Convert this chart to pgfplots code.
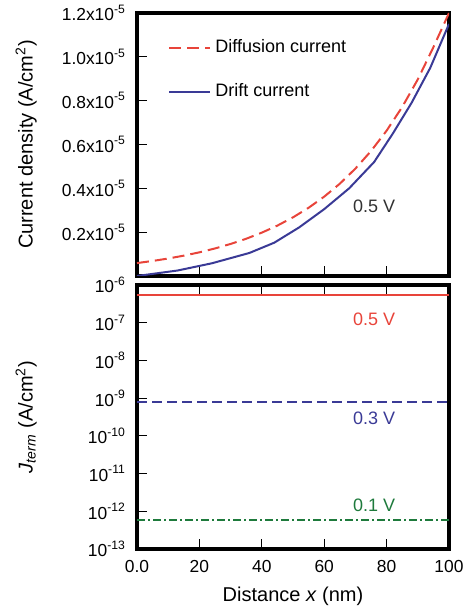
\documentclass[border=0pt]{standalone}
\usepackage{fontspec}
\setmainfont{Liberation Sans}
\usepackage{pgfplots}
\pgfplotsset{compat=1.18}

\definecolor{cred}{RGB}{232,68,58}
\definecolor{cblue}{RGB}{58,58,150}
\definecolor{cgreen}{RGB}{30,122,60}
\definecolor{ctext}{RGB}{50,50,50}

\pgfplotsset{
  panel/.style={
    scale only axis, width=156pt,
    xmin=0, xmax=100,
    axis line style={line width=1.6pt},
    tick style={line width=0.6pt, black},
    major tick length=5pt,
    tick align=inside,
    ytick pos=left,
    tick label style={font=\fontsize{8.7}{10}\selectfont},
    yticklabel style={xshift=-2pt},
    xticklabel style={yshift=-2pt},
    label style={font=\fontsize{10}{12}\selectfont},
    ylabel style={at={(axis description cs:-0.355,0.5)}, anchor=center},
  }
}

\begin{document}
\begin{tikzpicture}
% top panel: current density at 0.5 V
\begin{axis}[panel,
  name=top, at={(0pt,136.5pt)}, anchor=south west,
  height=131.5pt,
  ymin=0, ymax=1.2e-5,
  scaled y ticks=false,
  xtick={20,40,60,80}, xtick pos=bottom, xticklabels={},
  ytick={2e-6,4e-6,6e-6,8e-6,1e-5,1.2e-5},
  yticklabels={0.2x10\textsuperscript{-5},0.4x10\textsuperscript{-5},0.6x10\textsuperscript{-5},0.8x10\textsuperscript{-5},1.0x10\textsuperscript{-5},1.2x10\textsuperscript{-5}},
  ylabel={Current density (A/cm\textsuperscript{2})},
  legend style={at={(axis description cs:0.08,0.93)}, anchor=north west,
    draw=none, fill=none, font=\fontsize{9}{11}\selectfont,
    row sep=10pt},
  legend cell align=left,
  legend image code/.code={\draw[#1] (0pt,0pt) -- (20.5pt,0pt);},
]
\addplot[cred, line width=1pt, dash pattern=on 6pt off 3pt] coordinates {
 (0,5.90e-7) (5,6.86e-7) (10,7.98e-7) (15,9.29e-7) (20,1.08e-6)
 (25,1.257e-6) (30,1.462e-6) (35,1.70e-6) (40,1.978e-6) (45,2.30e-6)
 (50,2.676e-6) (55,3.113e-6) (60,3.62e-6) (65,4.21e-6) (70,4.90e-6)
 (75,5.70e-6) (80,6.63e-6) (85,7.71e-6) (90,8.97e-6) (95,1.044e-5) (100,1.20e-5)};
\addlegendentry{Diffusion current}
\addplot[cblue, line width=1pt] coordinates {
 (0,0) (13,2.5e-7) (24,5.8e-7) (36,1.05e-6) (44,1.52e-6) (52,2.22e-6)
 (60,3.05e-6) (68,4.00e-6) (76,5.20e-6) (82,6.50e-6) (88,7.90e-6)
 (94,9.50e-6) (100,1.15e-5)};
\addlegendentry{Drift current}
\node[ctext, font=\fontsize{9}{11}\selectfont] at (axis cs:76,3.2e-6) {0.5 V};
\end{axis}

% bottom panel: terminal current density
\begin{axis}[panel,
  name=bot, at={(0pt,0pt)}, anchor=south west,
  height=132pt,
  ymode=log, ymin=1e-13, ymax=1e-6,
  yminorticks=false,
  xtick={0,20,40,60,80,100}, xtick pos=both, xticklabel pos=lower,
  xticklabels={0.0,20,40,60,80,100},
  ytick={1e-13,1e-12,1e-11,1e-10,1e-9,1e-8,1e-7,1e-6},
  yticklabels={10\textsuperscript{-13},10\textsuperscript{-12},10\textsuperscript{-11},10\textsuperscript{-10},10\textsuperscript{-9},10\textsuperscript{-8},10\textsuperscript{-7},10\textsuperscript{-6}},
  ylabel={\textit{J}\textsubscript{\textit{term}} (A/cm\textsuperscript{2})},
  xlabel={Distance \textit{x} (nm)},
  xlabel style={at={(axis description cs:0.5,-0.18)}, anchor=center},
]
\addplot[cred, line width=1pt] coordinates {(0,5.5e-7) (100,5.5e-7)};
\addplot[cblue, line width=1pt, dash pattern=on 5pt off 2.5pt] coordinates {(0,8e-10) (100,8e-10)};
\addplot[cgreen, line width=1pt, dash pattern=on 4pt off 1.5pt on 1pt off 1.5pt] coordinates {(0,5.9e-13) (100,5.9e-13)};
\node[cred, font=\fontsize{9}{11}\selectfont] at (axis cs:76,1.26e-7) {0.5 V};
\node[cblue, font=\fontsize{9}{11}\selectfont] at (axis cs:76,3e-10) {0.3 V};
\node[cgreen, font=\fontsize{9}{11}\selectfont] at (axis cs:76,1.47e-12) {0.1 V};
\end{axis}
\pgfresetboundingbox
\useasboundingbox (-68.5pt,-30pt) rectangle (165pt,274.5pt);
\end{tikzpicture}
\end{document}
